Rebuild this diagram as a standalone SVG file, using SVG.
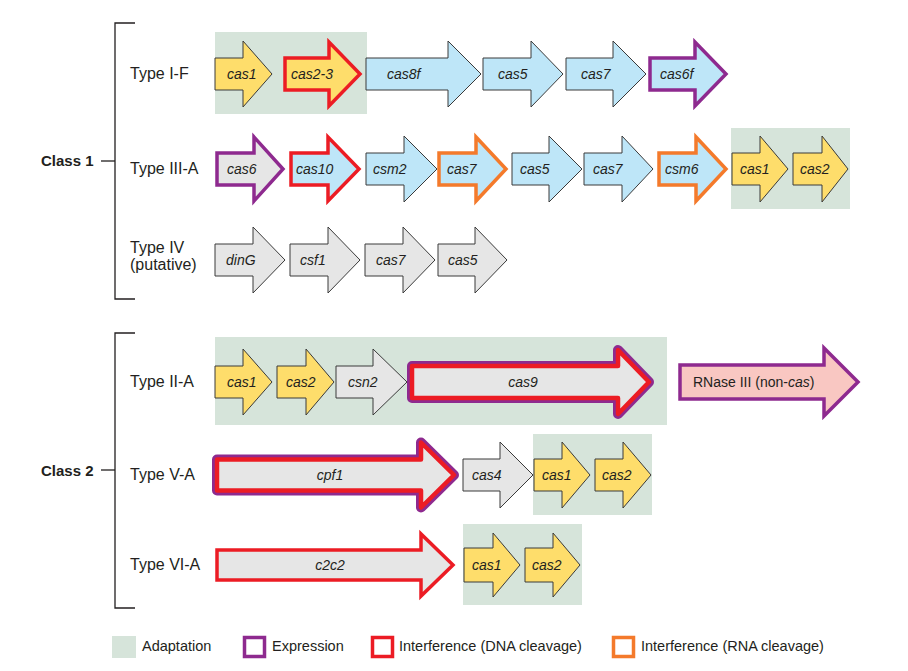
<svg xmlns="http://www.w3.org/2000/svg" width="908" height="671" viewBox="0 0 908 671">
  <style>
    .bg { fill: #ffffff; }
    .adapt { fill: #d6e4da; }
    .gene { stroke: #3a3a3a; stroke-width: 1; stroke-linejoin: miter; }
    .yel { fill: #fedd6b; }
    .blu { fill: #bee6f8; }
    .gry { fill: #e6e6e6; }
    .pnk { fill: #f9c7c2; }
    .exp { stroke: #8e2a8f; stroke-width: 3.5; stroke-linejoin: miter; }
    .dna { stroke: #ec1c24; stroke-width: 3.5; stroke-linejoin: miter; }
    .rna { stroke: #f47a2b; stroke-width: 3.5; stroke-linejoin: miter; }
    .dblo { fill: none; stroke: #8e2a8f; stroke-width: 10; stroke-linejoin: round; }
    .dbli { fill: #e6e6e6; stroke: #ec1c24; stroke-width: 4.5; stroke-linejoin: round; }
    .lbl { font-family: "Liberation Sans", Arial, sans-serif; font-size: 14px; font-style: italic; fill: #231f20; }
    .typ { font-family: "Liberation Sans", Arial, sans-serif; font-size: 16px; fill: #231f20; }
    .cls { font-family: "Liberation Sans", Arial, sans-serif; font-size: 15px; font-weight: bold; fill: #231f20; }
    .leg { font-family: "Liberation Sans", Arial, sans-serif; font-size: 14.5px; fill: #231f20; }
    .brk { fill: none; stroke: #231f20; stroke-width: 1.3; }
  </style>
  <rect class="bg" x="0" y="0" width="908" height="671"/>

  <!-- brackets and class labels -->
  <g id="connectors">
    <path class="brk" d="M135 23H115V299H135"/>
    <path class="brk" d="M101 161H115"/>
    <path class="brk" d="M135 333H115V608H135"/>
    <path class="brk" d="M101 470H115"/>
  </g>
  <g id="class1"><text class="cls" x="41" y="166">Class 1</text></g>
  <g id="class2"><text class="cls" x="41" y="476">Class 2</text></g>

  <!-- Type I-F -->
  <g id="type-I-F">
    <text class="typ" x="130" y="79">Type I-F</text>
    <rect class="adapt" x="215" y="32" width="152" height="82"/>
    <g id="IF-cas1"><path class="gene yel" d="M215 58H243V41L272 74L243 107V90H215Z"/><text class="lbl" x="227" y="79">cas1</text></g>
    <g id="IF-cas2-3"><path class="dna yel" d="M285 58H329V42L360 74L329 106V90H285Z"/><text class="lbl" x="291" y="79">cas2-3</text></g>
    <g id="IF-cas8f"><path class="gene blu" d="M366 58H448V41L481 74L448 107V90H366Z"/><text class="lbl" x="387" y="79">cas8f</text></g>
    <g id="IF-cas5"><path class="gene blu" d="M483 58H531V41L563 74L531 107V90H483Z"/><text class="lbl" x="498" y="79">cas5</text></g>
    <g id="IF-cas7"><path class="gene blu" d="M566 58H613V41L646 74L613 107V90H566Z"/><text class="lbl" x="581" y="79">cas7</text></g>
    <g id="IF-cas6f"><path class="exp blu" d="M650 58H695V42L726 74L695 106V90H650Z"/><text class="lbl" x="660" y="79">cas6f</text></g>
  </g>

  <!-- Type III-A -->
  <g id="type-III-A">
    <text class="typ" x="130" y="174">Type III-A</text>
    <g id="IIIA-cas6"><path class="exp gry" d="M217 153H254V137L283 169L254 201V185H217Z"/><text class="lbl" x="227" y="174">cas6</text></g>
    <g id="IIIA-cas10"><path class="dna blu" d="M291 153H328V137L359 169L328 201V185H291Z"/><text class="lbl" x="296" y="174">cas10</text></g>
    <g id="IIIA-csm2"><path class="gene blu" d="M366 153H404V136L437 169L404 202V185H366Z"/><text class="lbl" x="373" y="174">csm2</text></g>
    <g id="IIIA-cas7a"><path class="rna blu" d="M439 153H476V137L506 169L476 201V185H439Z"/><text class="lbl" x="447" y="174">cas7</text></g>
    <g id="IIIA-cas5"><path class="gene blu" d="M512 153H549V136L582 169L549 202V185H512Z"/><text class="lbl" x="520" y="174">cas5</text></g>
    <g id="IIIA-cas7b"><path class="gene blu" d="M584 153H622V136L653 169L622 202V185H584Z"/><text class="lbl" x="593" y="174">cas7</text></g>
    <g id="IIIA-csm6"><path class="rna blu" d="M659 153H696V137L726 169L696 201V185H659Z"/><text class="lbl" x="665" y="174">csm6</text></g>
    <rect class="adapt" x="731" y="128" width="119" height="81"/>
    <g id="IIIA-cas1"><path class="gene yel" d="M732 153H760V136L788 169L760 202V185H732Z"/><text class="lbl" x="740" y="174">cas1</text></g>
    <g id="IIIA-cas2"><path class="gene yel" d="M793 153H822V136L848 169L822 202V185H793Z"/><text class="lbl" x="800" y="174">cas2</text></g>
  </g>

  <!-- Type IV -->
  <g id="type-IV">
    <text class="typ" x="130" y="253">Type IV</text>
    <text class="typ" x="130" y="270">(putative)</text>
    <g id="IV-dinG"><path class="gene gry" d="M215 244H253V227L285 260L253 293V276H215Z"/><text class="lbl" x="226" y="265">dinG</text></g>
    <g id="IV-csf1"><path class="gene gry" d="M290 244H328V227L360 260L328 293V276H290Z"/><text class="lbl" x="300" y="265">csf1</text></g>
    <g id="IV-cas7"><path class="gene gry" d="M365 244H403V227L435 260L403 293V276H365Z"/><text class="lbl" x="376" y="265">cas7</text></g>
    <g id="IV-cas5"><path class="gene gry" d="M438 244H475V227L507 260L475 293V276H438Z"/><text class="lbl" x="448" y="265">cas5</text></g>
  </g>

  <!-- Type II-A -->
  <g id="type-II-A">
    <text class="typ" x="130" y="387">Type II-A</text>
    <rect class="adapt" x="215" y="337" width="452" height="88"/>
    <g id="IIA-cas1"><path class="gene yel" d="M215 366H243V349L272 382L243 415V398H215Z"/><text class="lbl" x="227" y="387">cas1</text></g>
    <g id="IIA-cas2"><path class="gene yel" d="M277 366H306V349L334 382L306 415V398H277Z"/><text class="lbl" x="286" y="387">cas2</text></g>
    <g id="IIA-csn2"><path class="gene gry" d="M336 366H373V349L407 382L373 415V398H336Z"/><text class="lbl" x="348" y="387">csn2</text></g>
    <g id="IIA-cas9">
      <path class="dblo" d="M412 366H618V350L649 382L618 414V398H412Z"/>
      <path class="dbli" d="M412 366H618V350L649 382L618 414V398H412Z"/>
      <text class="lbl" x="523" y="387" text-anchor="middle">cas9</text>
    </g>
    <g id="IIA-rnase3">
      <path class="exp pnk" d="M680 365H824V348L858 382L824 416V399H680Z"/>
      <text class="leg" x="693" y="387" style="font-size:14px">RNase III (non-<tspan font-style="italic">cas</tspan>)</text>
    </g>
  </g>

  <!-- Type V-A -->
  <g id="type-V-A">
    <text class="typ" x="130" y="480">Type V-A</text>
    <g id="VA-cpf1">
      <path class="dblo" d="M217 459.5H421V442.5L454 475L421 507.5V490.5H217Z"/>
      <path class="dbli" d="M217 459.5H421V442.5L454 475L421 507.5V490.5H217Z"/>
      <text class="lbl" x="330" y="480" text-anchor="middle">cpf1</text>
    </g>
    <g id="VA-cas4"><path class="gene gry" d="M463 459H500V442L533 475L500 508V491H463Z"/><text class="lbl" x="472" y="480">cas4</text></g>
    <rect class="adapt" x="533" y="434" width="119" height="81"/>
    <g id="VA-cas1"><path class="gene yel" d="M534 459H562V442L590 475L562 508V491H534Z"/><text class="lbl" x="542" y="480">cas1</text></g>
    <g id="VA-cas2"><path class="gene yel" d="M595 459H623V442L651 475L623 508V491H595Z"/><text class="lbl" x="602" y="480">cas2</text></g>
  </g>

  <!-- Type VI-A -->
  <g id="type-VI-A">
    <text class="typ" x="130" y="570">Type VI-A</text>
    <g id="VIA-c2c2"><path class="dna gry" d="M217 550H421V534L453 565L421 596V580H217Z"/><text class="lbl" x="330" y="570" text-anchor="middle">c2c2</text></g>
    <rect class="adapt" x="463" y="524" width="119" height="81"/>
    <g id="VIA-cas1"><path class="gene yel" d="M464 548H493V533L520 565L493 597V582H464Z"/><text class="lbl" x="472" y="570">cas1</text></g>
    <g id="VIA-cas2"><path class="gene yel" d="M525 548H553V533L580 565L553 597V582H525Z"/><text class="lbl" x="532" y="570">cas2</text></g>
  </g>

  <!-- legend -->
  <g id="legend">
    <rect class="adapt" x="112" y="636" width="24" height="22"/>
    <text class="leg" x="142" y="651">Adaptation</text>
    <rect x="244.5" y="637.5" width="20" height="19" fill="none" stroke="#8e2a8f" stroke-width="3.5"/>
    <text class="leg" x="272" y="651">Expression</text>
    <rect x="372.5" y="637.5" width="20" height="19" fill="none" stroke="#ec1c24" stroke-width="3.5"/>
    <text class="leg" x="399" y="651">Interference (DNA cleavage)</text>
    <rect x="613.5" y="637.5" width="20" height="19" fill="none" stroke="#f47a2b" stroke-width="3.5"/>
    <text class="leg" x="641" y="651">Interference (RNA cleavage)</text>
  </g>
</svg>
